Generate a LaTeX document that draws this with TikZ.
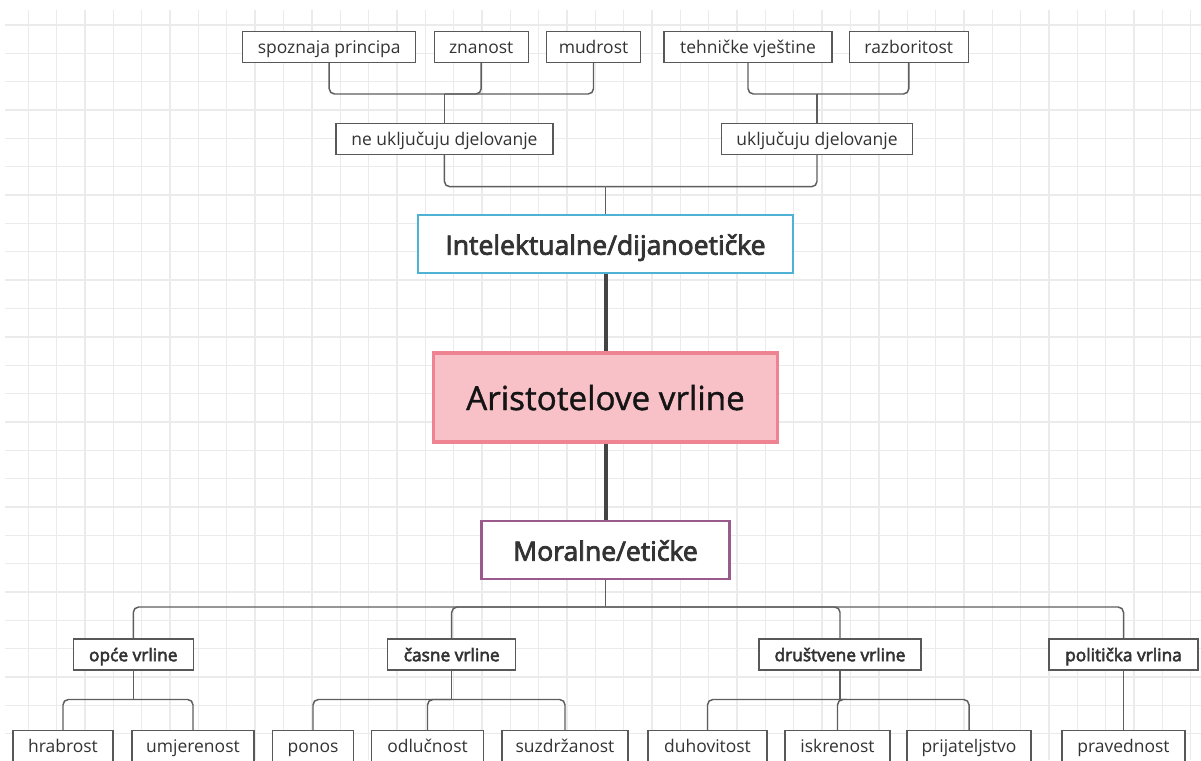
\documentclass[tikz,border=0pt]{standalone}
\usepackage{fontspec}
\setmainfont{Open Sans}
\newcommand\sbtext[2][0.35]{\special{pdf:code 2 Tr #1 w}#2\special{pdf:code 0 Tr}}
\definecolor{gridc}{HTML}{EBEBEB}
\definecolor{linec}{HTML}{5E5E5E}
\definecolor{boxc}{HTML}{585858}
\definecolor{txt}{HTML}{333333}
\definecolor{blueb}{HTML}{4DB2D4}
\definecolor{pinkb}{HTML}{EE8492}
\definecolor{pinkf}{HTML}{F8C1C7}
\definecolor{purpb}{HTML}{9A5A8C}
\definecolor{thickc}{HTML}{444444}
\tikzset{
  sz/.style 2 args={minimum width=#1*0.75pt,minimum height=#2*0.75pt},
  gridline/.style={draw=gridc,line width=1pt},
  leaf/.style={draw=boxc,fill=white,line width=0.9pt,inner sep=0pt,text=txt,
    text height=10pt,text depth=0pt,font=\fontsize{13.1}{15}\selectfont},
  group/.style={leaf,font=\fontsize{13}{15}\selectfont},
  head/.style={fill=white,line width=2pt,inner sep=0pt,text=txt,text height=16pt,text depth=0pt,
    font=\fontsize{19.9}{22}\selectfont},
  conn/.style={draw=linec,line width=1.1pt,rounded corners=4pt},
  stem/.style={draw=linec,line width=1.1pt},
  trunk/.style={draw=thickc,line width=3pt},
}
\begin{document}
\begin{tikzpicture}[x=0.75pt,y=-0.75pt]
\useasboundingbox (0,0) rectangle (1201,760);
\clip (0,0) rectangle (1201,760);
\fill[white] (0,0) rectangle (1201,760);
% grid
\foreach \k in {1,...,42} \draw[gridline] (\k*28.35,10) -- (\k*28.35,760);
\foreach \k in {0,...,25} \draw[gridline] (5,25+\k*28.35) -- (1201,25+\k*28.35);

% top row
\node[leaf,sz={173}{31}] (spoz) at (329.2,46.7) {spoznaja principa};
\node[leaf,sz={94}{31}] (znan) at (481.2,46.7) {znanost};
\node[leaf,sz={94}{31}] (mudr) at (593.5,46.7) {mudrost};
\node[leaf,sz={168}{31}] (tehn) at (748,46.7) {tehničke vještine};
\node[leaf,sz={119}{31}] (razb) at (908.8,46.7) {razboritost};
\node[leaf,sz={217}{31}] (neuk) at (444.4,138.8) {ne uključuju djelovanje};
\node[leaf,sz={191}{31}] (uklj) at (817,138.8) {uključuju djelovanje};

% main nodes
\node[head,draw=blueb,sz={375}{58}] (intel) at (605.5,244) {\sbtext[0.6]{Intelektualne/dijanoetičke}};
\node[draw=pinkb,fill=pinkf,line width=2.3pt,sz={344}{89},inner sep=0pt,text=black!92,
  text height=18.8pt,text depth=0pt,font=\fontsize{24.9}{28}\selectfont] (arist) at (605.5,397.5) {\sbtext[0.3]{Aristotelove vrline}};
\node[head,draw=purpb,sz={248}{58}] (moral) at (605.5,550) {\sbtext[0.6]{Moralne/etičke}};

% middle groups
\node[group,sz={120}{31}] (opce) at (133.3,654.5) {\sbtext[0.42]{opće vrline}};
\node[group,sz={128}{31}] (casne) at (451.7,654.5) {\sbtext[0.42]{časne vrline}};
\node[group,sz={162}{31}] (drus) at (840,654.5) {\sbtext[0.42]{društvene vrline}};
\node[group,sz={149}{31}] (polit) at (1123.5,654.5) {\sbtext[0.42]{politička vrlina}};

% bottom row
\node[leaf,sz={100}{31}] (hrab) at (63,746) {hrabrost};
\node[leaf,sz={122}{31}] (umje) at (193,746) {umjerenost};
\node[leaf,sz={81}{31}] (ponos) at (313,746) {ponos};
\node[leaf,sz={112}{31}] (odlu) at (427.5,746) {odlučnost};
\node[leaf,sz={126}{31}] (suzd) at (565,746) {suzdržanost};
\node[leaf,sz={119}{31}] (duho) at (707.5,746) {duhovitost};
\node[leaf,sz={105}{31}] (iskr) at (837.5,746) {iskrenost};
\node[leaf,sz={124}{31}] (prij) at (969,746) {prijateljstvo};
\node[leaf,sz={123}{31}] (prav) at (1123.5,746) {pravednost};

% join points
\coordinate (jA) at (neuk.north |- 0,94);
\coordinate (jB) at (uklj.north |- 0,94);
\coordinate (jC) at (intel.north |- 0,186.7);
\coordinate (jD) at (moral.south |- 0,607);
\coordinate (jE) at (opce.south |- 0,699.5);
\coordinate (jF) at (casne.south |- 0,699.5);
\coordinate (jG) at (drus.south |- 0,699.5);

% connectors
\draw[stem] (neuk.north) -- (jA);
\foreach \c in {spoz,znan,mudr} \draw[conn] (jA) -| (\c.south);
\draw[stem] (uklj.north) -- (jB);
\foreach \c in {tehn,razb} \draw[conn] (jB) -| (\c.south);
\draw[stem] (intel.north) -- (jC);
\foreach \c in {neuk,uklj} \draw[conn] (jC) -| (\c.south);

\draw[trunk] (intel.south) -- (arist.north);
\draw[trunk] (arist.south) -- (moral.north);

\draw[stem] (moral.south) -- (jD);
\foreach \c in {opce,casne,drus,polit} \draw[conn] (jD) -| (\c.north);
\draw[stem] (opce.south) -- (jE);
\foreach \c in {hrab,umje} \draw[conn] (jE) -| (\c.north);
\draw[stem] (casne.south) -- (jF);
\foreach \c in {ponos,odlu,suzd} \draw[conn] (jF) -| (\c.north);
\draw[stem] (drus.south) -- (jG);
\foreach \c in {duho,iskr,prij} \draw[conn] (jG) -| (\c.north);
\draw[stem] (polit.south) -- (prav.north);
\end{tikzpicture}
\end{document}
